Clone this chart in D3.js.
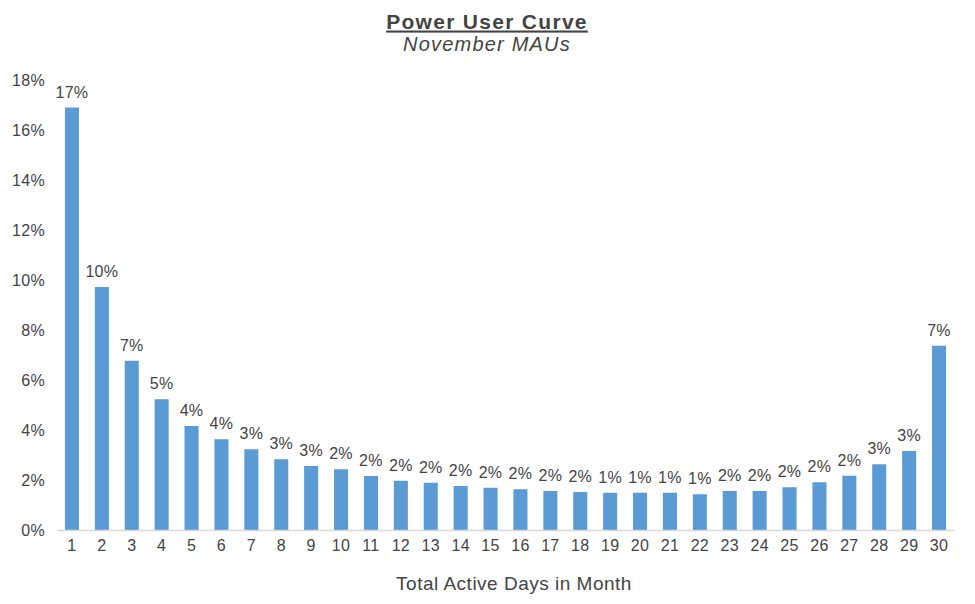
<!DOCTYPE html>
<html>
<head>
<meta charset="utf-8">
<script src="https://cdn.jsdelivr.net/npm/d3@7"></script>
<style>
  body { margin: 0; background: #fff; }
  svg { display: block; font-family: "Liberation Sans", Arial, sans-serif; }
</style>
</head>
<body>
<svg id="chart" width="975" height="604"></svg>
<script>
// data (percent of MAUs per active-day count)
const days = d3.range(1, 31)
const shares = [
  16.9, 9.72, 6.77, 5.23, 4.16, 3.63, 3.23, 2.83, 2.56, 2.43,
  2.16, 1.97, 1.89, 1.76, 1.69, 1.63, 1.56, 1.52, 1.49, 1.49,
  1.49, 1.43, 1.56, 1.56, 1.71, 1.91, 2.17, 2.63, 3.16, 7.37
]
const yTicks = [0, 2, 4, 6, 8, 10, 12, 14, 16, 18]

const title = 'Power User Curve'
const subtitle = 'November MAUs'
const xTitle = 'Total Active Days in Month'

const svg = d3.select('#chart')
const textColor = '#444'
const barColor = '#5b9bd5'
const font = '"Liberation Sans", Arial, sans-serif'

const x = d3.scaleBand()
  .domain(days)
  .range([57, 954])
  .paddingInner(0.53)
  .paddingOuter(0.265)

const y = d3.scaleLinear()
  .domain([0, 18])
  .range([530, 80])

// y axis labels, no line
const yAxis = svg.append('g')
  .attr('transform', 'translate(45,0)')
  .call(d3.axisLeft(y).tickValues(yTicks).tickSize(0).tickPadding(0).tickFormat(d => d + '%'))
yAxis.select('.domain').remove()
yAxis.selectAll('text')
  .attr('fill', textColor)
  .attr('font-size', 16)
  .attr('letter-spacing', 0.3)
  .attr('font-family', font)

// bars
svg.append('g')
  .selectAll('rect')
  .data(days)
  .join('rect')
  .attr('x', d => x(d))
  .attr('y', d => y(shares[d - 1]))
  .attr('width', x.bandwidth())
  .attr('height', d => y(0) - y(shares[d - 1]))
  .attr('fill', barColor)

// value labels
svg.append('g')
  .selectAll('text')
  .data(days)
  .join('text')
  .attr('x', d => x(d) + x.bandwidth() / 2)
  .attr('y', d => y(shares[d - 1]) - 10)
  .attr('text-anchor', 'middle')
  .attr('font-size', 16)
  .attr('letter-spacing', 0.3)
  .attr('fill', textColor)
  .text(d => d3.format('.0f')(shares[d - 1]) + '%')

// x axis
const xAxis = svg.append('g')
  .attr('transform', 'translate(0,530)')
  .call(d3.axisBottom(x).tickSize(0).tickPadding(10))
xAxis.select('.domain')
  .attr('stroke', '#d9d9d9')
  .attr('stroke-width', 1.5)
xAxis.selectAll('text')
  .attr('fill', textColor)
  .attr('font-size', 16)
  .attr('letter-spacing', 0.3)
  .attr('font-family', font)

svg.append('text')
  .attr('x', 514)
  .attr('y', 590)
  .attr('text-anchor', 'middle')
  .attr('font-size', 19)
  .attr('letter-spacing', 0.5)
  .attr('fill', textColor)
  .text(xTitle)

// titles
svg.append('text')
  .attr('x', 487)
  .attr('y', 28.5)
  .attr('text-anchor', 'middle')
  .attr('font-size', 21)
  .attr('letter-spacing', 1.3)
  .attr('font-weight', 'bold')
  .attr('text-decoration', 'underline')
  .attr('fill', textColor)
  .text(title)

svg.append('text')
  .attr('x', 487)
  .attr('y', 51)
  .attr('text-anchor', 'middle')
  .attr('font-size', 20)
  .attr('letter-spacing', 1.2)
  .attr('font-style', 'italic')
  .attr('fill', textColor)
  .text(subtitle)
</script>
</body>
</html>
